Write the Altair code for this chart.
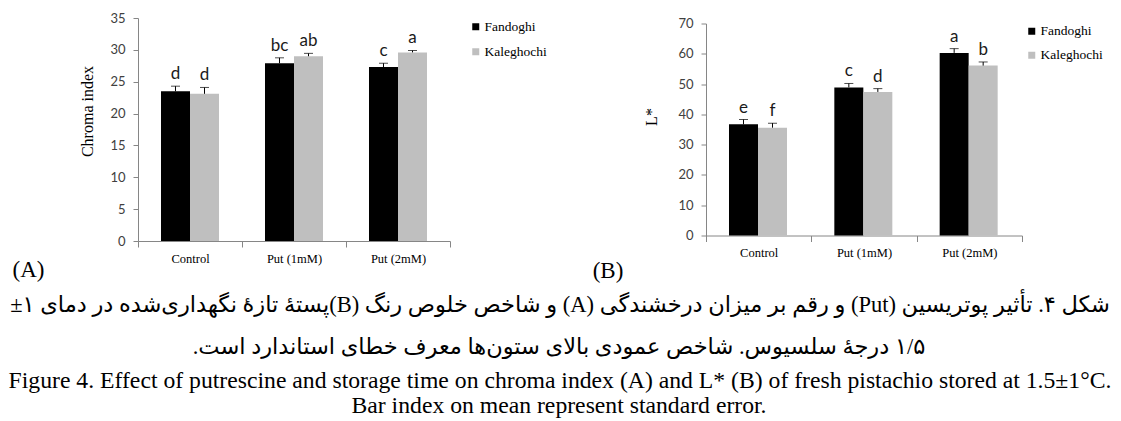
import altair as alt
import pandas as pd

# ---------------- data ----------------
categories = ["Control", "Put (1mM)", "Put (2mM)"]
cultivars = ["Fandoghi", "Kaleghochi"]
bar_colors = ["#000000", "#bfbfbf"]

chroma_fandoghi = [23.5, 27.9, 27.3]
chroma_fandoghi_se = [0.8, 0.85, 0.6]
chroma_kaleghochi = [23.1, 29.0, 29.6]
chroma_kaleghochi_se = [1.0, 0.45, 0.3]
chroma_letters_fandoghi = ["d", "bc", "c"]
chroma_letters_kaleghochi = ["d", "ab", "a"]
chroma_ticks = [0, 5, 10, 15, 20, 25, 30, 35]

lstar_fandoghi = [36.7, 48.9, 60.3]
lstar_fandoghi_se = [1.6, 1.3, 1.4]
lstar_kaleghochi = [35.6, 47.4, 56.1]
lstar_kaleghochi_se = [1.5, 1.1, 1.2]
lstar_letters_fandoghi = ["e", "c", "a"]
lstar_letters_kaleghochi = ["f", "d", "b"]
lstar_ticks = [0, 10, 20, 30, 40, 50, 60, 70]

panel_labels = ["(A)", "(B)"]
y_titles = ["Chroma index", "L*"]

caption_fa_1 = "شکل ۴. تأثیر پوتریسین (Put) و رقم بر میزان درخشندگی (A) و شاخص خلوص رنگ (B)پستهٔ تازهٔ نگهداری‌شده در دمای ۱±"
caption_fa_2 = "۱/۵ درجهٔ سلسیوس. شاخص عمودی بالای ستون‌ها معرف خطای استاندارد است."
caption_en_1 = "Figure 4. Effect of putrescine and storage time on chroma index (A) and L* (B) of fresh pistachio stored at 1.5±1°C."
caption_en_2 = "Bar index on mean represent standard error."

AX = "#868686"
SERIF = "Liberation Serif"
SANS = "Lato"
FA_FONT = "Liberation Serif, DejaVu Sans"


def make_df(vf, sf, lf, vk, sk, lk):
    rows = []
    for i, c in enumerate(categories):
        rows.append(dict(cat=c, cultivar=cultivars[0], value=vf[i], top=vf[i] + sf[i], letter=lf[i]))
        rows.append(dict(cat=c, cultivar=cultivars[1], value=vk[i], top=vk[i] + sk[i], letter=lk[i]))
    return pd.DataFrame(rows)


def text_layer(txt, x, y, font, size, align="center"):
    return alt.Chart(pd.DataFrame({"t": [txt]})).mark_text(
        font=font, fontSize=size, align=align, baseline="middle", color="#000000"
    ).encode(x=alt.value(x), y=alt.value(y), text="t:N")


def panel(df, ytitle, ticks, w, h, title_x, title_y, legend_x, legend_y, row_pad, extra):
    base = alt.Chart(df)
    x = alt.X(
        "cat:N", sort=categories,
        scale=alt.Scale(paddingInner=0, paddingOuter=0),
        axis=alt.Axis(title=None, labelAngle=0, tickBand="extent", domainColor=AX,
                      tickColor=AX, tickSize=6, labelFont=SERIF, labelFontSize=12.5,
                      labelColor="#000000", labelPadding=5),
    )
    xo = alt.XOffset("cultivar:N", sort=cultivars,
                     scale=alt.Scale(paddingInner=0, paddingOuter=0.793))
    yscale = alt.Scale(domain=[0, ticks[-1]], nice=False, zero=True)
    yaxis = alt.Axis(values=ticks, title=ytitle, grid=False, domainColor=AX, tickColor=AX,
                     tickSize=5, labelFont=SANS, labelFontSize=13, labelColor="#404040",
                     labelPadding=8, labelOverlap=False, titleFont=SERIF, titleFontSize=16,
                     titleFontWeight="normal", titleColor="#000000", titleX=title_x,
                     titleY=title_y, titleAngle=270, titleAlign="center",
                     titleBaseline="middle")

    def Y(field):
        return alt.Y(field, scale=yscale, axis=yaxis)

    bars = base.mark_bar().encode(
        x=x, xOffset=xo, y=Y("value:Q"),
        color=alt.Color(
            "cultivar:N", sort=cultivars,
            scale=alt.Scale(domain=cultivars, range=bar_colors),
            legend=alt.Legend(title=None, orient="none", legendX=legend_x, legendY=legend_y,
                              symbolType="square", symbolSize=49, symbolStrokeWidth=0,
                              labelFont=SERIF, labelFontSize=13.5, labelColor="#000000",
                              rowPadding=row_pad, labelOffset=2, padding=0),
        ),
    )
    rules = base.mark_rule(color="#000000", strokeWidth=1).encode(
        x=x, xOffset=xo, y=Y("value:Q"), y2="top:Q")
    caps = base.mark_tick(color="#000000", thickness=1, size=9, orient="horizontal").encode(
        x=x, xOffset=xo, y=Y("top:Q"))
    letters = base.mark_text(font=SANS, fontSize=17, dy=-7, baseline="alphabetic",
                             color="#1a1a1a").encode(
        x=x, xOffset=xo, y=Y("top:Q"), text="letter:N")
    return alt.layer(bars, rules, caps, letters, *extra).properties(width=w, height=h)


df_a = make_df(chroma_fandoghi, chroma_fandoghi_se, chroma_letters_fandoghi,
               chroma_kaleghochi, chroma_kaleghochi_se, chroma_letters_kaleghochi)
df_b = make_df(lstar_fandoghi, lstar_fandoghi_se, lstar_letters_fandoghi,
               lstar_kaleghochi, lstar_kaleghochi_se, lstar_letters_kaleghochi)

extra_a = [
    text_layer(panel_labels[0], -109.5, 252, SERIF, 23),
    text_layer("\u202b" + caption_fa_1 + "\u202c", 422, 287, FA_FONT, 22.5),
    text_layer("\u202b" + caption_fa_2 + "\u202c", 421, 329, FA_FONT, 22.5),
    text_layer(caption_en_1, 422, 363, SERIF, 23.7),
    text_layer(caption_en_2, 421, 388, SERIF, 23.7),
]
extra_b = [text_layer(panel_labels[1], -98, 247, SERIF, 23)]

panel_a = panel(df_a, y_titles[0], chroma_ticks, 312, 223, -51, 93, 331, 2, 10, extra_a)
panel_b = panel(df_b, y_titles[1], lstar_ticks, 316, 212, -55, 93, 319, 1, 9, extra_b)

chart = alt.hconcat(panel_a, panel_b, spacing=256, bounds="flush", center=True).resolve_scale(
    color="independent").resolve_legend(color="independent").configure_view(
    stroke=None).configure_legend(labelFont=SERIF).properties(
    padding={"left": 0, "top": 4, "right": 0, "bottom": 0}, background="white")

chart.save("out.html", embed_options={"renderer": "svg", "actions": False})
